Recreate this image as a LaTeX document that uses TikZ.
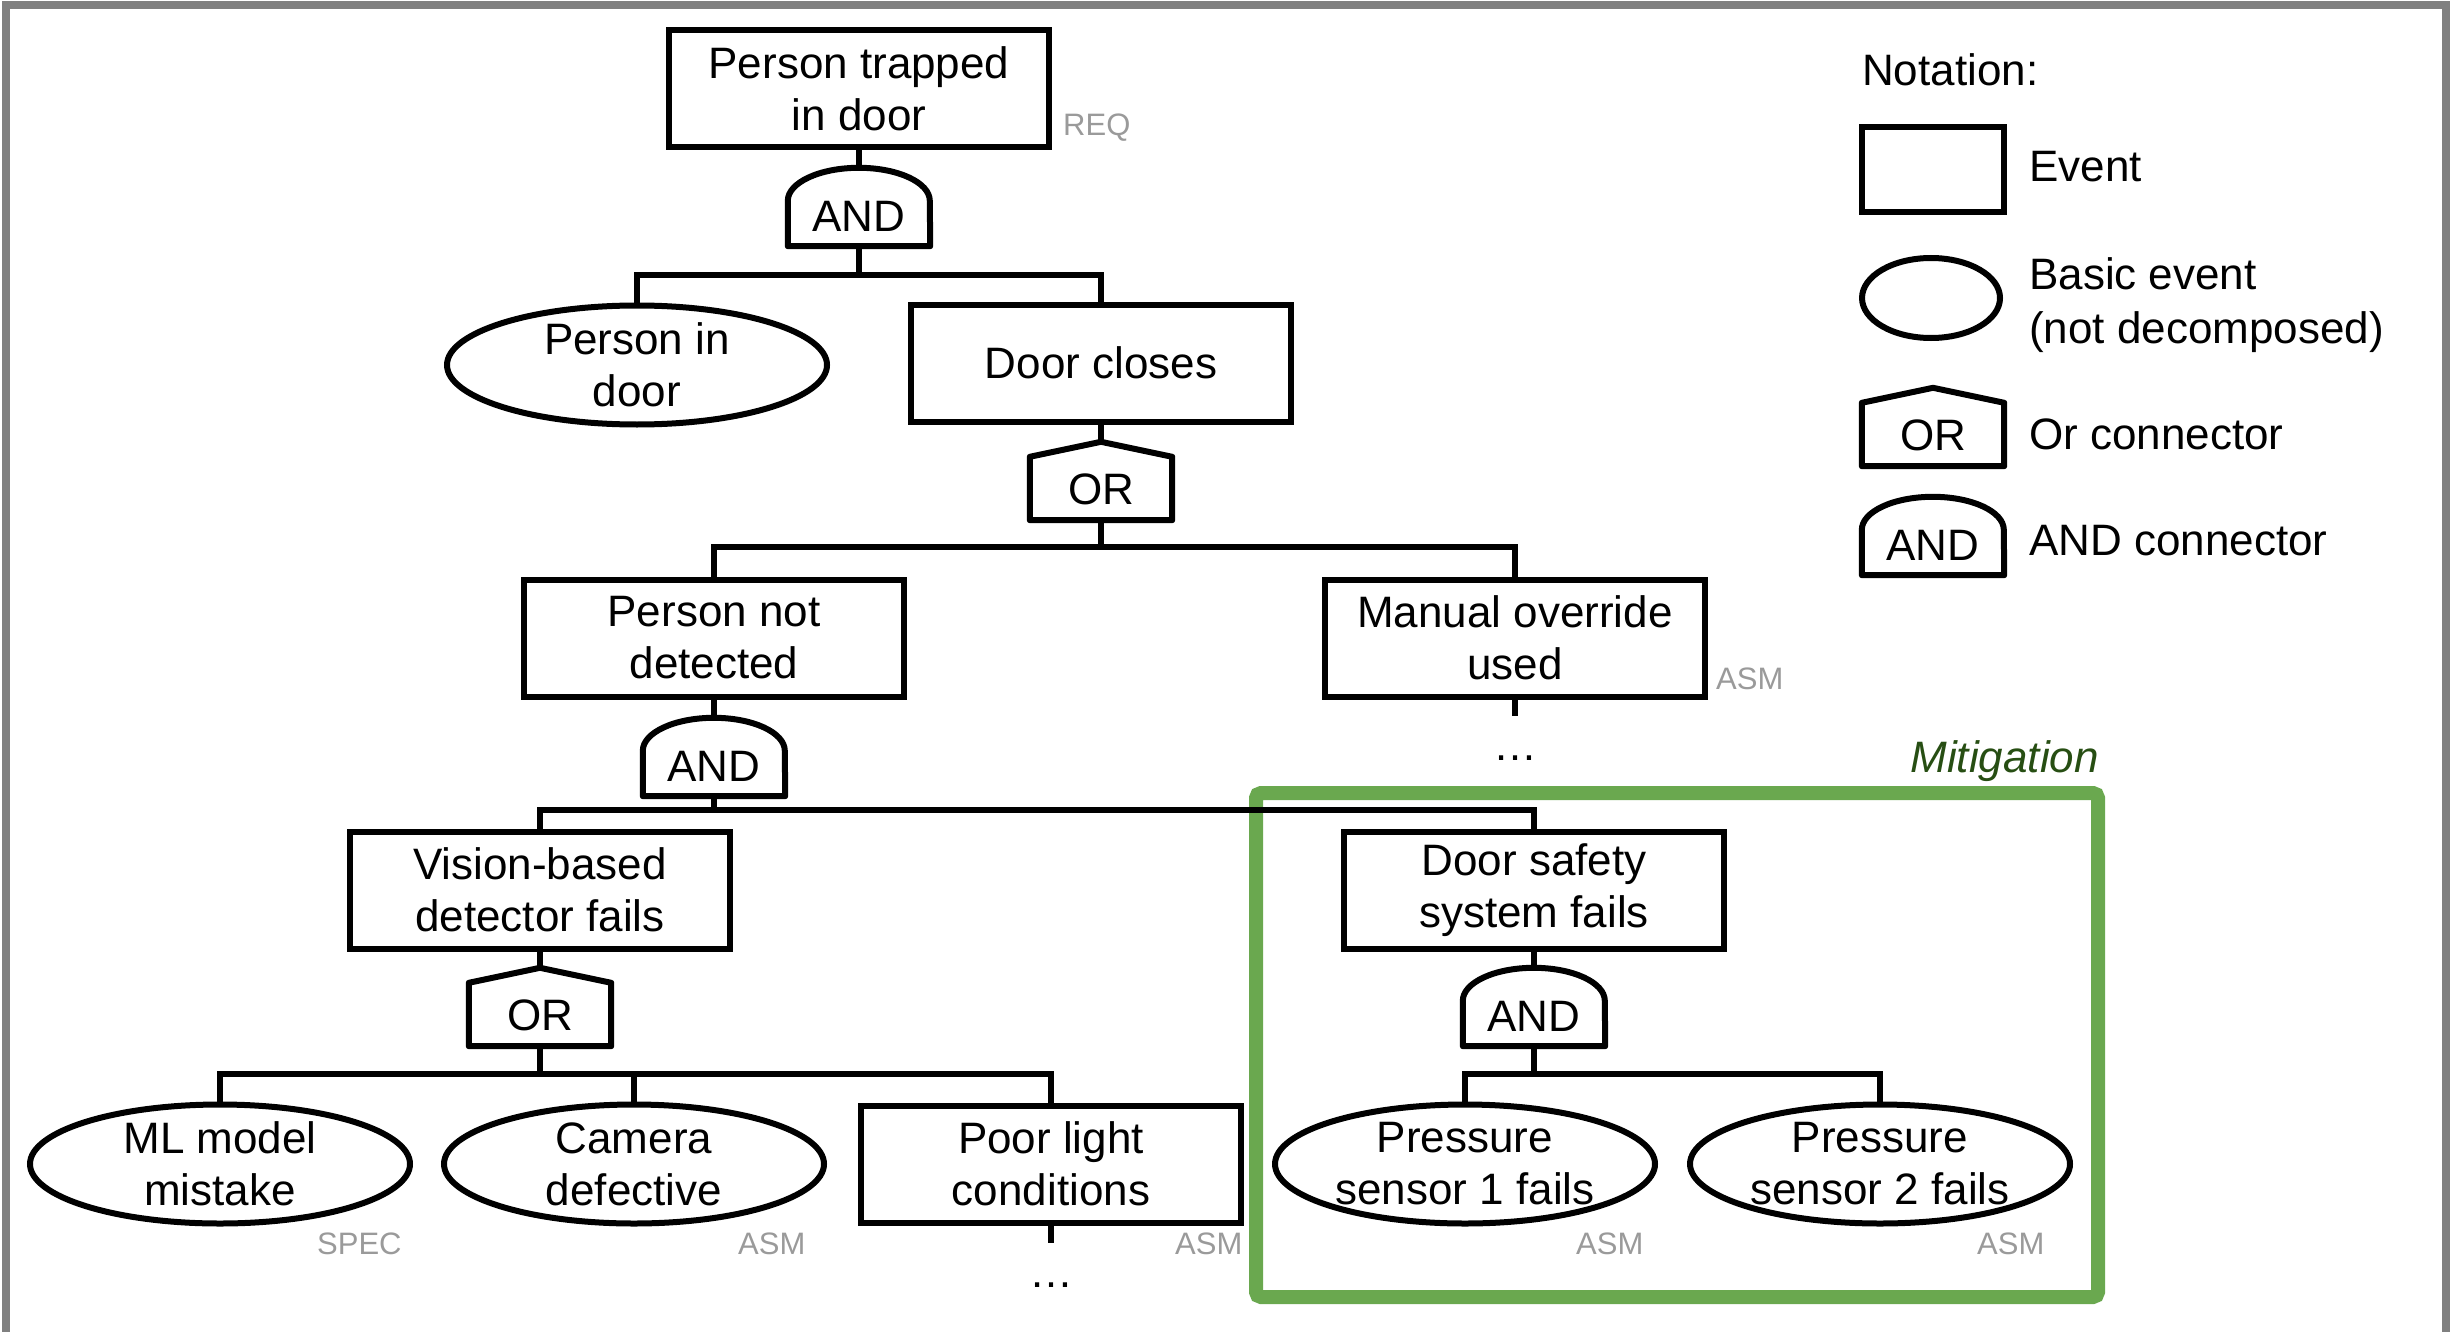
\documentclass[tikz,border=0pt]{standalone}
\usepackage{fontspec}
\setmainfont{Liberation Sans}
\usetikzlibrary{shapes.geometric}
\definecolor{framegray}{HTML}{808080}
\definecolor{taggray}{HTML}{9A9A9A}
\definecolor{mitgreen}{HTML}{6AA84F}
\definecolor{mitdark}{HTML}{274E13}
\newcommand\mainfs{\fontsize{44}{52}\selectfont}
\newcommand\tagfs{\fontsize{31}{36}\selectfont}
\newcommand\orgate[1]{\draw[gateline] (#1.south west) -- ([yshift=-15pt]#1.north west) -- (#1.north) -- ([yshift=-15pt]#1.north east) -- (#1.south east) -- cycle;}
\newcommand\andgate[1]{\draw[gateline] (#1.south west) -- ([yshift=-33pt]#1.north west) arc[start angle=180, end angle=0, x radius=71pt, y radius=33pt] -- (#1.south east) -- cycle;}
\tikzset{
  event/.style={draw, line width=6pt, rectangle, minimum width=380pt, minimum height=117pt, inner sep=0pt, font=\mainfs, align=center},
  basic/.style={draw, line width=6pt, ellipse, minimum width=380pt, minimum height=119pt, inner sep=0pt},
  txt/.style={font=\mainfs, align=center, inner sep=0pt},
  gate/.style={rectangle, minimum width=142pt, minimum height=78pt, inner sep=0pt},
  gateline/.style={line width=6pt, line join=round},
  conn/.style={line width=5.5pt},
  tag/.style={font=\tagfs, text=taggray, anchor=base west, inner sep=0pt},
  legtxt/.style={font=\mainfs, anchor=base west, inner sep=0pt},
}
\begin{document}
\begin{tikzpicture}[x=1pt,y=-1pt]
\useasboundingbox (0,0) rectangle (2451,1332);
% frame
\draw[line width=8pt, framegray] (6,1345) -- (6,5) -- (2446,5) -- (2446,1345);
% mitigation box
\draw[line width=14pt, mitgreen, rounded corners=5pt] (1256,793) rectangle (2098,1297);
\node[font=\mainfs\itshape, text=mitdark, anchor=base east, inner sep=0pt] (mit) at (2099,772) {Mitigation};

% level 0
\node[event] (top) at (859,89) {Person trapped\\in door};
\node[tag] (reqtag) at (1063,136) {REQ};
\node[gate] (g1) at (859,207) {}; \andgate{g1}
\node[txt] (g1t) at ([yshift=-9pt]g1.center) {AND};

% level 1
\node[basic] (pid) at (637,365) {};
\node[txt] (pidt) at (pid.center) {Person in\\door};
\node[event] (dc) at (1101,363) {Door closes};
\node[gate] (or1) at (1101,481) {}; \orgate{or1}
\node[txt] (or1t) at ([yshift=-8pt]or1.center) {OR};

% level 2
\node[event] (pnd) at (714,638) {Person not\\detected};
\node[event] (mo) at (1515,638) {Manual override\\used};
\node[tag] (motag) at (1716,689) {ASM};
\coordinate (moend) at (1515,716);
\node[txt, anchor=base] (modots) at (1515,760) {…};
\node[gate] (and2) at (714,757) {}; \andgate{and2}
\node[txt] (and2t) at ([yshift=-9pt]and2.center) {AND};

% level 3
\node[event] (vis) at (540,890) {Vision-based\\detector fails};
\node[event] (dss) at (1534,890) {Door safety\\system fails};
\node[gate] (or2) at (540,1007) {}; \orgate{or2}
\node[txt] (or2t) at ([yshift=-8pt]or2.center) {OR};
\node[gate] (and3) at (1534,1007) {}; \andgate{and3}
\node[txt] (and3t) at ([yshift=-9pt]and3.center) {AND};

% level 4
\node[basic] (ml) at (220,1164) {};
\node[txt] (mlt) at (ml.center) {ML model\\mistake};
\node[tag] (mltag) at (317,1254) {SPEC};
\node[basic] (cam) at (634,1164) {};
\node[txt] (camt) at (cam.center) {Camera\\defective};
\node[tag] (camtag) at (738,1254) {ASM};
\node[event] (pl) at (1051,1164) {Poor light\\conditions};
\node[tag] (pltag) at (1175,1254) {ASM};
\coordinate (plend) at (1051,1243);
\node[txt, anchor=base] (pldots) at (1051,1287) {…};
\node[basic] (ps1) at (1465,1164) {};
\node[txt] (ps1t) at (ps1.center) {Pressure\\sensor 1 fails};
\node[tag] (ps1tag) at (1576,1254) {ASM};
\node[basic] (ps2) at (1880,1164) {};
\node[txt] (ps2t) at (ps2.center) {Pressure\\sensor 2 fails};
\node[tag] (ps2tag) at (1977,1254) {ASM};

% connectors
\draw[conn] (top.south) -- (g1.north);
\draw[conn] (g1.south) -- ++(0,29) -| (pid.north);
\draw[conn] (g1.south) -- ++(0,29) -| (dc.north);
\draw[conn] (dc.south) -- (or1.north);
\draw[conn] (or1.south) -- ++(0,27) -| (pnd.north);
\draw[conn] (or1.south) -- ++(0,27) -| (mo.north);
\draw[conn] (mo.south) -- (moend);
\draw[conn] (pnd.south) -- (and2.north);
\draw[conn] (and2.south) -- ++(0,14) -| (vis.north);
\draw[conn] (and2.south) -- ++(0,14) -| (dss.north);
\draw[conn] (vis.south) -- (or2.north);
\draw[conn] (dss.south) -- (and3.north);
\draw[conn] (or2.south) -- ++(0,28) -| (ml.north);
\draw[conn] (or2.south) -- ++(0,28) -| (cam.north);
\draw[conn] (or2.south) -- ++(0,28) -| (pl.north);
\draw[conn] (pl.south) -- (plend);
\draw[conn] (and3.south) -- ++(0,28) -| (ps1.north);
\draw[conn] (and3.south) -- ++(0,28) -| (ps2.north);

% legend
\node[legtxt] (lnot) at (1862,86) {Notation:};
\node[draw, line width=6pt, minimum width=142pt, minimum height=85pt, inner sep=0pt] (levent) at (1933,170) {};
\node[legtxt] (leventt) at (2029,182) {Event};
\node[draw, ellipse, line width=6pt, minimum width=138pt, minimum height=80pt, inner sep=0pt] (lbasic) at (1931,298) {};
\node[legtxt] (lbasict1) at (2029,289) {Basic event};
\node[legtxt] (lbasict2) at (2029,343) {(not decomposed)};
\node[gate] (lor) at (1933,427) {}; \orgate{lor}
\node[txt] (lort) at ([yshift=-8pt]lor.center) {OR};
\node[legtxt] (lort2) at (2029,449) {Or connector};
\node[gate] (land) at (1933,536) {}; \andgate{land}
\node[txt] (landt) at ([yshift=-9pt]land.center) {AND};
\node[legtxt] (landt2) at (2029,555) {AND connector};
\end{tikzpicture}
\end{document}
